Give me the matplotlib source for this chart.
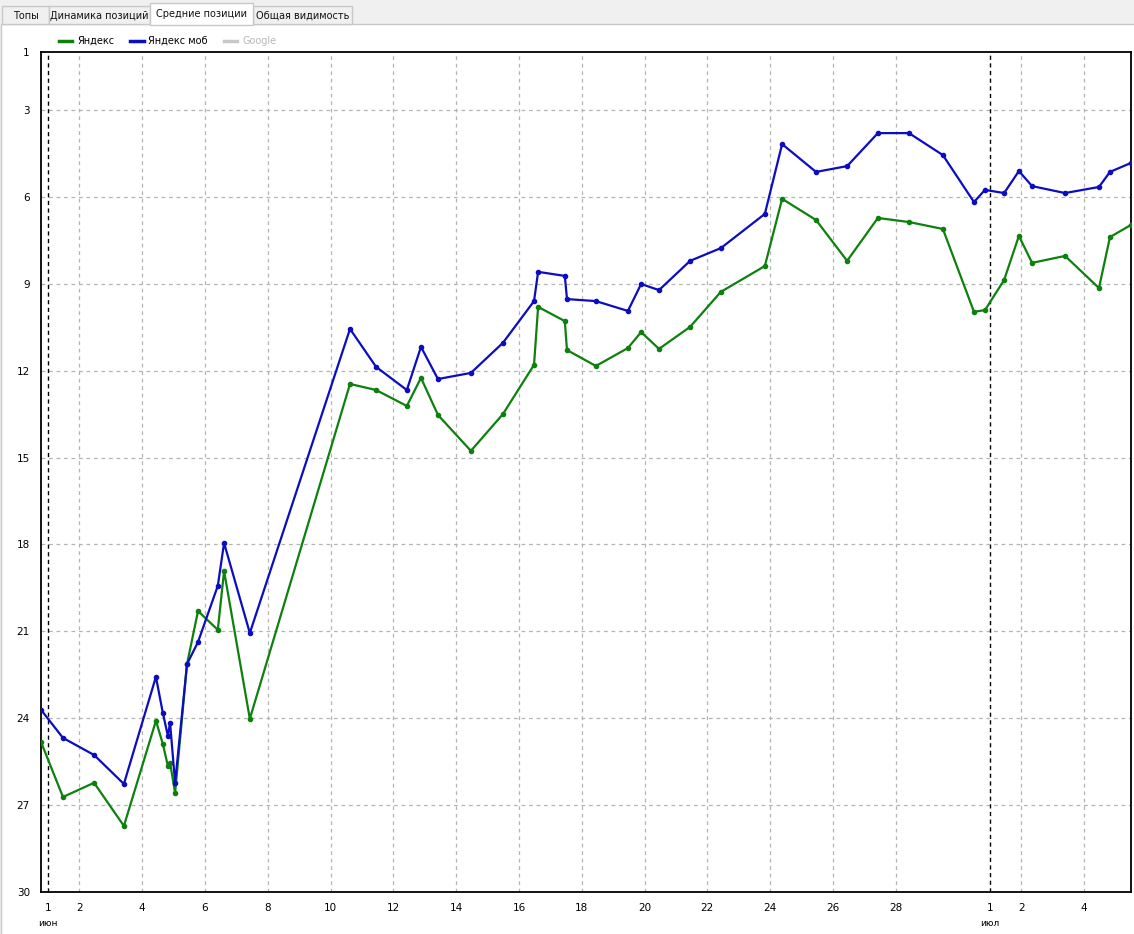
import matplotlib.pyplot as plt
from matplotlib.patches import Rectangle
from matplotlib.lines import Line2D

# days since 1 June
days = [-0.22, 0.48, 1.47, 2.42, 3.44, 3.66, 3.82, 3.89, 4.05, 4.43, 4.78, 5.41, 5.61, 6.43,
        9.62, 10.45, 11.43, 11.88, 12.42, 13.47, 14.49, 15.48, 15.61, 16.46, 16.53,
        17.45, 18.47, 18.89, 19.46, 20.45, 21.43, 22.83, 23.38, 24.46, 25.45, 26.43, 27.42, 28.50,
        29.49, 29.84, 30.45, 30.92, 31.34, 32.39, 33.47, 33.82, 34.49]
yandex = [24.82, 26.72, 26.23, 27.72, 24.09, 24.89, 25.65, 25.54, 26.58, 22.13, 20.30, 20.95, 18.92, 24.02,
          12.46, 12.67, 13.22, 12.25, 13.53, 14.77, 13.50, 11.80, 9.80, 10.29, 11.29,
          11.84, 11.22, 10.67, 11.25, 10.49, 9.28, 8.39, 6.07, 6.80, 8.21, 6.73, 6.87, 7.11,
          9.97, 9.91, 8.87, 7.35, 8.28, 8.04, 9.15, 7.39, 6.97]
yandex_mob = [23.71, 24.68, 25.27, 26.27, 22.57, 23.82, 24.61, 24.16, 26.23, 22.13, 21.37, 19.43, 17.95, 21.06,
              10.56, 11.87, 12.67, 11.18, 12.29, 12.08, 11.04, 9.60, 8.59, 8.73, 9.53,
              9.60, 9.94, 9.01, 9.22, 8.21, 7.77, 6.59, 4.18, 5.14, 4.94, 3.80, 3.80, 4.56,
              6.18, 5.76, 5.87, 5.11, 5.63, 5.87, 5.66, 5.14, 4.83]

june_ticks = [1, 2, 4, 6, 8, 10, 12, 14, 16, 18, 20, 22, 24, 26, 28]
july_ticks = [1, 2, 4]
y_ticks = [1, 3, 6, 9, 12, 15, 18, 21, 24, 27, 30]
tabs = ["Топы", "Динамика позиций", "Средние позиции", "Общая видимость"]

GREEN = '#0e800e'
BLUE = '#0c0cc0'

fig = plt.figure(figsize=(11.34, 9.34), dpi=100)
W, H = 1134, 934

def px(x0, y0, w, h):
    return (x0 / W, 1 - (y0 + h) / H, w / W, h / H)

# window background and tab strip
fig.patches.append(Rectangle((0, 0), 1, 1, transform=fig.transFigure, color='#f0f0f0', zorder=-10))
x0, y0, w, h = px(1, 24, 1140, 920)
fig.patches.append(Rectangle((x0, y0), w, h, transform=fig.transFigure, facecolor='white',
                             edgecolor='#c8c8c8', lw=1, zorder=-9))
tab_x = [2, 49, 150, 253]
tab_w = [47, 101, 103, 99]
for i, t in enumerate(tabs):
    sel = i == 2
    top = 3 if sel else 6
    x0, y0, w, h = px(tab_x[i], top, tab_w[i], 24 - top + (1 if sel else 0))
    fig.patches.append(Rectangle((x0, y0), w, h, transform=fig.transFigure,
                                 facecolor='white' if sel else '#f0f0f0',
                                 edgecolor='#c8c8c8', lw=1, zorder=-8 if sel else -8.5))
    fig.text((tab_x[i] + tab_w[i] / 2) / W, 1 - (16 if not sel else 14) / H, t,
             ha='center', va='center', fontsize=7, color='#111111')

ax = fig.add_axes([41 / W, 1 - 892 / H, 1090 / W, 840 / H])
ax.plot(days, yandex, color=GREEN, lw=1.6, marker='o', ms=3, zorder=3)
ax.plot(days, yandex_mob, color=BLUE, lw=1.6, marker='o', ms=3, zorder=4)

ax.set_xlim(-0.22, 34.49)
ax.set_ylim(30, 1)
ax.set_yticks(y_ticks)
ax.set_yticklabels([str(v) for v in y_ticks], fontsize=7.5)

pos = [d - 1 for d in june_ticks] + [30 + d - 1 for d in july_ticks]
labels = [str(d) for d in june_ticks] + [str(d) for d in july_ticks]
ax.set_xticks(pos)
ax.set_xticklabels(labels, fontsize=7.5)
ax.tick_params(length=0, pad=8)

for v in y_ticks[1:-1]:
    ax.axhline(v, color='#b4b4b4', lw=0.9, ls=(0, (3, 3)), zorder=1)
for p in pos:
    if p in (0, 30):
        ax.axvline(p, color='black', lw=1.0, ls=(0, (3, 2.5)), zorder=2)
    else:
        ax.axvline(p, color='#b4b4b4', lw=0.9, ls=(0, (3, 3)), zorder=1)

for s in ax.spines.values():
    s.set_color('black')
    s.set_linewidth(1.3)

ax.text(0, -0.038, 'июн', transform=ax.get_xaxis_transform(), ha='center', va='center', fontsize=6.5)
ax.text(30, -0.038, 'июл', transform=ax.get_xaxis_transform(), ha='center', va='center', fontsize=6.5)

handles = [Line2D([], [], color=GREEN, lw=2.5),
           Line2D([], [], color=BLUE, lw=2.5),
           Line2D([], [], color='#c8c8c8', lw=2.5)]
leg = fig.legend(handles, ['Яндекс', 'Яндекс моб', 'Google'], loc='center left',
                 bbox_to_anchor=(50 / W, 1 - 41 / H), ncol=3, frameon=False, fontsize=7,
                 handlelength=1.4, handletextpad=0.5, columnspacing=1.6)
leg.get_texts()[2].set_color('#b8b8b8')

fig.savefig('out.png', dpi=100)
